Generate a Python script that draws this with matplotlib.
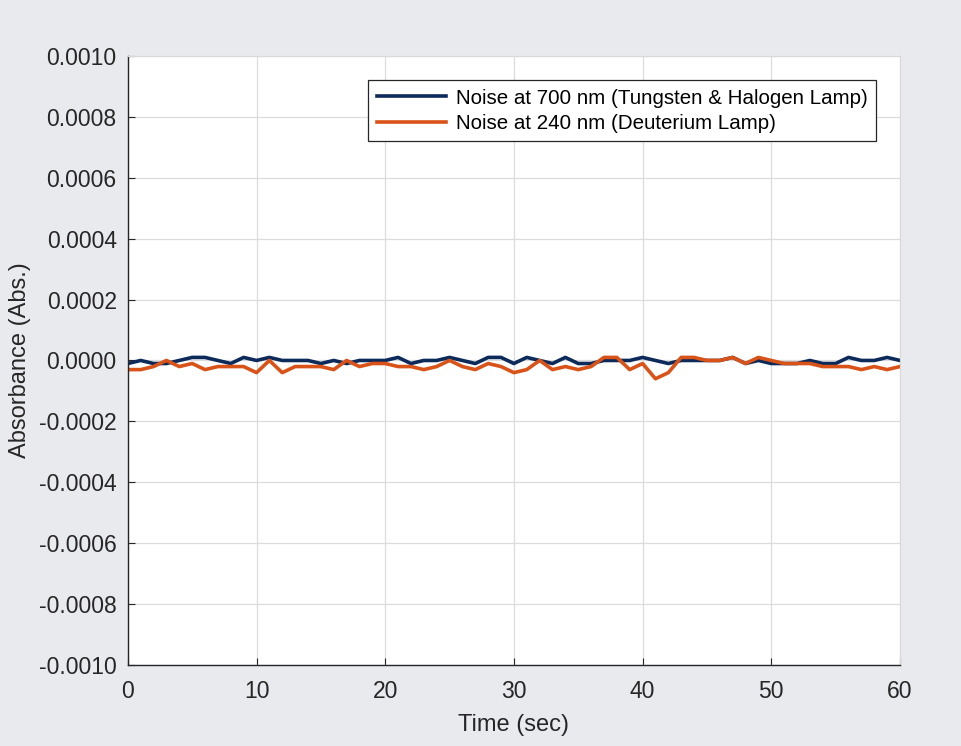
import numpy as np
import matplotlib.pyplot as plt

plt.rcParams['font.family'] = ['Liberation Sans', 'DejaVu Sans']

t = np.arange(0, 61)
# absorbance noise, units of 1e-5 Abs
noise_700 = [-1, 0, -1, -1, 0, 1, 1, 0, -1, 1, 0, 1, 0, 0, 0, -1, 0, -1, 0, 0,
             0, 1, -1, 0, 0, 1, 0, -1, 1, 1, -1, 1, 0, -1, 1, -1, -1, 0, 0, 0,
             1, 0, -1, 0, 0, 0, 0, 1, -1, 0, -1, -1, -1, 0, -1, -1, 1, 0, 0, 1, 0]
noise_240 = [-3, -3, -2, 0, -2, -1, -3, -2, -2, -2, -4, 0, -4, -2, -2, -2, -3, 0, -2, -1,
             -1, -2, -2, -3, -2, 0, -2, -3, -1, -2, -4, -3, 0, -3, -2, -3, -2, 1, 1, -3,
             -1, -6, -4, 1, 1, 0, 0, 1, -1, 1, 0, -1, -1, -1, -2, -2, -2, -3, -2, -3, -2]

y700 = np.array(noise_700) * 1e-5
y240 = np.array(noise_240) * 1e-5

bg = '#e9eaee'
fig = plt.figure(figsize=(9.61, 7.46), dpi=100, facecolor=bg)
ax = fig.add_axes([0.133, 0.1086, 0.8035, 0.8164])

ax.plot(t, y700, color='#0c2a5a', lw=2.6, label='Noise at 700 nm (Tungsten & Halogen Lamp)')
ax.plot(t, y240, color='#d95319', lw=2.6, label='Noise at 240 nm (Deuterium Lamp)')

ax.set_xlim(0, 60)
ax.set_ylim(-0.001, 0.001)
ax.set_xticks(np.arange(0, 61, 10))
ax.set_yticks(np.arange(-0.001, 0.00101, 0.0002))
ax.yaxis.set_major_formatter(plt.FuncFormatter(lambda v, p: '%.4f' % (0.0 if abs(v) < 1e-12 else v)))
ax.grid(True, color='#dcdcdc', lw=0.9)
ax.set_axisbelow(True)
ax.tick_params(direction='in', length=5, labelsize=16.5, colors='#262626', pad=8)
ax.tick_params(axis='x', pad=11)
for s in ['top', 'right']:
    ax.spines[s].set_color('#d8d8d8')
for s in ['left', 'bottom']:
    ax.spines[s].set_color('#262626')
    ax.spines[s].set_linewidth(1.0)

ax.set_xlabel('Time (sec)', fontsize=17, color='#262626', labelpad=8)
ax.set_ylabel('Absorbance (Abs.)', fontsize=17, color='#262626', labelpad=6)

leg = ax.legend(loc='upper right', bbox_to_anchor=(0.9685, 0.96), fontsize=14.8,
                fancybox=False, edgecolor='#262626', framealpha=1,
                handlelength=3.4, handletextpad=0.45, borderpad=0.4,
                labelspacing=0.3, borderaxespad=0)
leg.get_frame().set_linewidth(0.9)

plt.savefig('out.png', dpi=100, facecolor=bg)
